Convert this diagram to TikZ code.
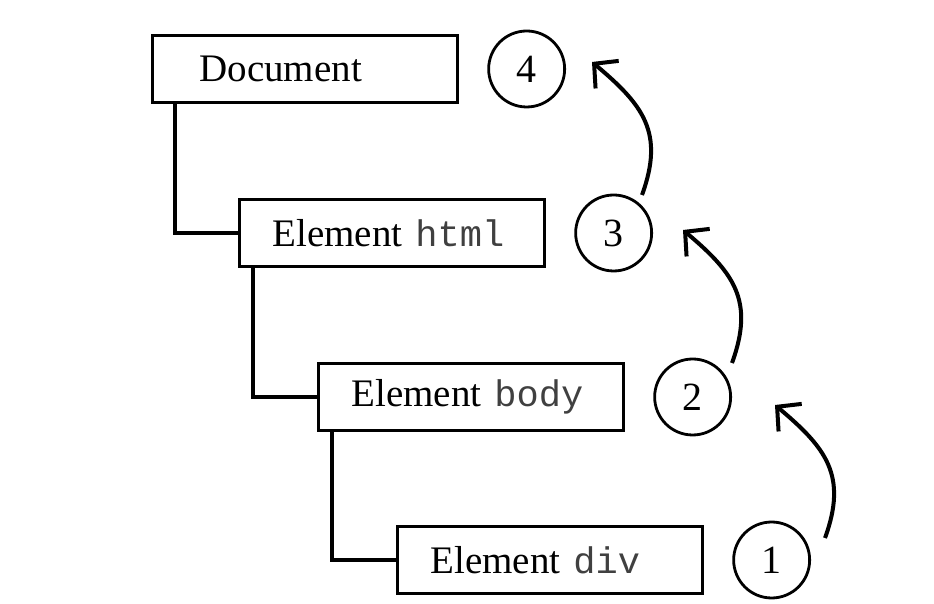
\documentclass[tikz,border=0pt]{standalone}
\usepackage{fontspec}
\setmainfont{Liberation Serif}
\setmonofont{Liberation Mono}
\usetikzlibrary{positioning,arrows.meta}
\newcommand{\tagname}[1]{{\fontsize{37}{46}\selectfont\color{black!75}\texttt{#1}}}

\begin{document}
\begin{tikzpicture}[x=1pt, y=1pt,
    elem/.style={draw, line width=3.5pt, minimum height=67pt, inner xsep=33pt,
      text width=239pt, align=left, font=\fontsize{39}{46}\selectfont},
    num/.style={draw, circle, line width=2.8pt, minimum size=76pt, inner sep=0pt,
      font=\fontsize{40}{46}\selectfont},
    link/.style={line width=4pt},
    up/.style={line width=4pt, -{Straight Barb[length=17pt,width=36pt]}}]
      \useasboundingbox (0,0) rectangle (934,604);
      \coordinate (from1) at (825,66);
      \coordinate (to1) at (775,199);
      \coordinate (from2) at (732,241);
      \coordinate (to2) at (683,374);
      \coordinate (from3) at (642,409);
      \coordinate (to3) at (592,542);
      \node[elem] (doc) at (305,535) {\hspace*{14pt}Document};
      \node[elem] (html) at (392,371) {Element \tagname{html}};
      \node[elem] (body) at (471,207) {Element \tagname{body}};
      \node[elem] (div) at (550,44) {Element \tagname{div}};
      \node[num, right=28pt of doc] (n4) {4};
      \node[num, right=28pt of html] (n3) {3};
      \node[num, right=28pt of body] (n2) {2};
      \node[num, right=28pt of div] (n1) {1};
      \draw[link] ([xshift=24pt]doc.south west) |- (html.west);
      \draw[link] ([xshift=15pt]html.south west) |- (body.west);
      \draw[link] ([xshift=15pt]body.south west) |- (div.west);
      \draw[up] (from1) to[out=70, in=-40, looseness=1.2] (to1);
      \draw[up] (from2) to[out=70, in=-40, looseness=1.2] (to2);
      \draw[up] (from3) to[out=70, in=-40, looseness=1.2] (to3);
    \end{tikzpicture}
\end{document}
